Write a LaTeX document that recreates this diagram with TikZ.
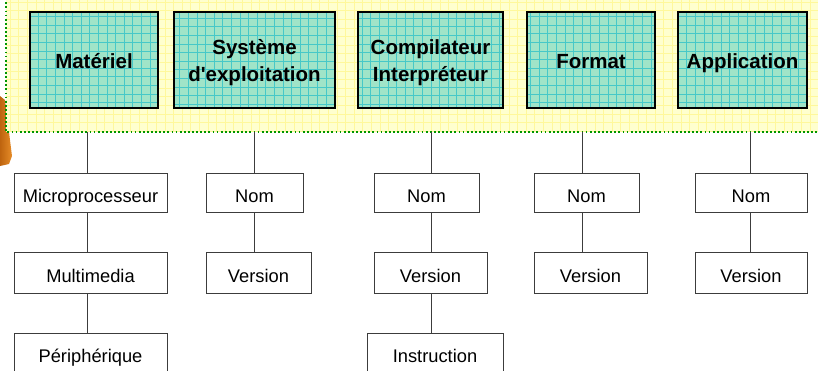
\documentclass[tikz,border=0pt]{standalone}
\usepackage{fontspec}
\setmainfont{Liberation Sans}[Ligatures=TeXOff]
\definecolor{panelyellow}{RGB}{255,255,206}
\definecolor{panelgrid}{RGB}{255,248,155}
\definecolor{dotgreen}{RGB}{0,150,0}
\definecolor{mint}{RGB}{160,228,200}
\definecolor{mintgrid}{RGB}{70,200,200}
\definecolor{linegray}{RGB}{60,60,60}
\definecolor{orangeA}{RGB}{190,100,15}
\definecolor{orangeB}{RGB}{230,140,40}
\newcommand{\lowerby}[2]{\raisebox{-#1}[\height][\depth]{#2}}
\tikzset{
  topbox/.style={draw=black, line width=1.1pt, fill=mint, minimum height=96pt,
    align=center, inner sep=0pt,
    font=\bfseries\fontsize{20.5}{26}\selectfont,
    path picture={\draw[mintgrid, line width=0.6pt, step=8.6pt]
      (path picture bounding box.south west) grid (path picture bounding box.north east);}},
  oneline/.style={text height=16pt, text depth=0pt},
  leafbox/.style={draw=linegray, line width=0.9pt, fill=white, inner sep=0pt,
    text height=19pt, text depth=0pt,
    font=\fontsize{18.3}{22}\selectfont},
  conn/.style={draw=linegray, line width=0.9pt}
}
\begin{document}
\begin{tikzpicture}[x=1pt,y=-1pt]
\useasboundingbox (0,0) rectangle (818,370);
\clip (0,0) rectangle (818,370);
% orange arrow edge behind the panel
\shade[left color=orangeA, right color=orangeB] (0,96) -- (5,100) -- (12,156) -- (9,164) -- (0,166) -- cycle;
% yellow panel
\fill[panelyellow] (6,-10) rectangle (830,132);
\begin{scope}
\clip (6,-10) rectangle (830,132);
\foreach \i in {0,...,96} {\draw[panelgrid, line width=0.6pt] (10+8.6*\i,-10) -- (10+8.6*\i,132);}
\foreach \j in {0,...,16} {\draw[panelgrid, line width=0.6pt] (6,2+8.6*\j) -- (830,2+8.6*\j);}
\end{scope}
\draw[dotgreen, line width=2pt, dash pattern=on 1.8pt off 2.3pt] (6,-10) -- (6,132) -- (830,132);
% top boxes
\node[topbox, oneline, minimum width=128pt] (mat) at (94,60) {Matériel};
\node[topbox, minimum width=161pt] (sys) at (254.5,60) {\lowerby{2pt}{Système}\\\lowerby{3pt}{d'exploitation}};
\node[topbox, minimum width=145pt] (comp) at (430.5,60) {\lowerby{2pt}{Compilateur}\\\lowerby{3pt}{Interpréteur}};
\node[topbox, oneline, minimum width=128pt] (fmt) at (591,60) {Format};
\node[topbox, oneline, minimum width=129pt] (app) at (742.5,60) {Application};
% panel attach points
\coordinate (pm) at (87,132);
\coordinate (ps) at (254.5,132);
\coordinate (pc) at (431,132);
\coordinate (pf) at (582,132);
\coordinate (pa) at (750,132);
% leaf boxes
\node[leafbox, minimum width=153pt, minimum height=39pt] (micro) at (90.5,192.5) {Microprocesseur};
\node[leafbox, minimum width=153pt, minimum height=41pt] (multi) at (90.5,272.5) {Multimedia};
\node[leafbox, minimum width=153pt, minimum height=40pt] (peri) at (90.5,353) {Périphérique};
\node[leafbox, minimum width=97pt, minimum height=39pt] (snom) at (254.5,192.5) {Nom};
\node[leafbox, minimum width=105pt, minimum height=41pt] (sver) at (258.5,272.5) {Version};
\node[leafbox, minimum width=105pt, minimum height=39pt] (cnom) at (426.5,192.5) {Nom};
\node[leafbox, minimum width=113pt, minimum height=41pt] (cver) at (430.5,272.5) {Version};
\node[leafbox, minimum width=136pt, minimum height=40pt] (cins) at (435,353) {Instruction};
\node[leafbox, minimum width=105pt, minimum height=39pt] (fnom) at (586.5,192.5) {Nom};
\node[leafbox, minimum width=113pt, minimum height=41pt] (fver) at (590.5,272.5) {Version};
\node[leafbox, minimum width=112pt, minimum height=39pt] (anom) at (751,192.5) {Nom};
\node[leafbox, minimum width=112pt, minimum height=41pt] (aver) at (751,272.5) {Version};
% connectors
\draw[conn] (pm) -- (pm |- micro.north);
\draw[conn] (micro.south -| pm) -- (multi.north -| pm);
\draw[conn] (multi.south -| pm) -- (peri.north -| pm);
\draw[conn] (ps) -- (ps |- snom.north);
\draw[conn] (snom.south -| ps) -- (sver.north -| ps);
\draw[conn] (pc) -- (pc |- cnom.north);
\draw[conn] (cnom.south -| pc) -- (cver.north -| pc);
\draw[conn] (cver.south -| pc) -- (cins.north -| pc);
\draw[conn] (pf) -- (pf |- fnom.north);
\draw[conn] (fnom.south -| pf) -- (fver.north -| pf);
\draw[conn] (pa) -- (pa |- anom.north);
\draw[conn] (anom.south -| pa) -- (aver.north -| pa);
\end{tikzpicture}
\end{document}
